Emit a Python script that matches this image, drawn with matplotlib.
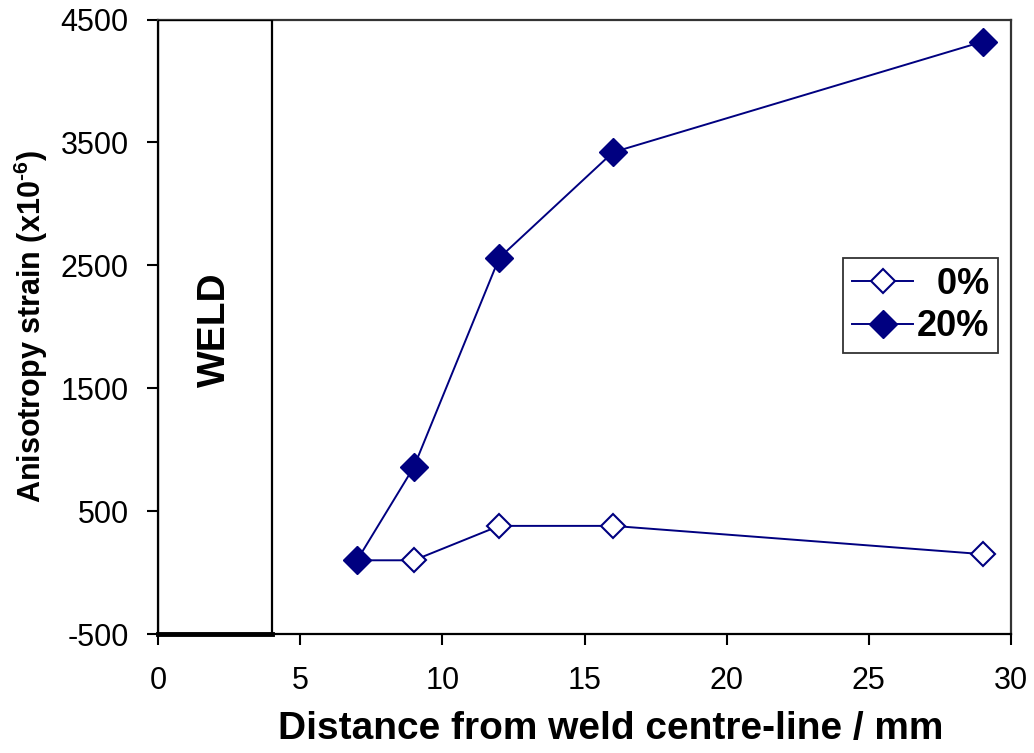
import matplotlib.pyplot as plt
from matplotlib.patches import Rectangle

plt.rcParams['font.family'] = ['Liberation Sans', 'DejaVu Sans']
plt.rcParams['axes.unicode_minus'] = False
plt.rcParams['mathtext.fontset'] = 'custom'
plt.rcParams['mathtext.rm'] = 'Liberation Sans:bold'
plt.rcParams['mathtext.bf'] = 'Liberation Sans:bold'

# distance from weld centre-line (mm) and anisotropy strain (x10^-6)
distance = [7, 9, 12, 16, 29]
strain_0 = [100, 100, 380, 380, 150]
strain_20 = [100, 860, 2560, 3420, 4320]

x_ticks = [0, 5, 10, 15, 20, 25, 30]
y_ticks = [-500, 500, 1500, 2500, 3500, 4500]
weld_edge = 4

navy = '#000080'

fig = plt.figure(figsize=(10.34, 7.53), dpi=100)
ax = fig.add_axes([0.1528, 0.158, 0.825, 0.816])

# leading spaces keep the legend labels right-aligned like the original
ax.plot(distance, strain_0, color=navy, lw=1.4, marker='D', ms=12.5,
        mfc='white', mec=navy, mew=1.5, label='  0%')
ax.plot(distance, strain_20, color=navy, lw=1.4, marker='D', ms=14,
        mfc=navy, mec=navy, label='20%')

# weld region box
ax.add_patch(Rectangle((0, y_ticks[0]), weld_edge, y_ticks[-1] - y_ticks[0],
                       fill=False, ec='black', lw=1.6, zorder=3))
ax.plot([0, weld_edge], [y_ticks[0], y_ticks[0]], color='black', lw=3.5,
        zorder=4, clip_on=False)
ax.text(weld_edge / 2, 1980, 'WELD', rotation=90, ha='center', va='center',
        fontsize=28, fontweight='bold')

ax.set_xlim(0, 30)
ax.set_ylim(-500, 4500)
ax.set_xticks(x_ticks)
ax.set_yticks(y_ticks)
ax.tick_params(direction='out', length=8, width=1.5, labelsize=22)
ax.tick_params(axis='x', pad=15)
ax.tick_params(axis='y', pad=13)
for s in ax.spines.values():
    s.set_linewidth(1.6)
ax.spines['top'].set_color('#333333')
ax.spines['right'].set_color('#333333')

ax.set_xlabel('Distance from weld centre-line / mm', fontsize=28,
              fontweight='bold', labelpad=11, x=0.531)
ax.set_ylabel(r'Anisotropy strain (x10$^{\text{-}6}$)', fontsize=22,
              fontweight='bold', labelpad=8)

leg = ax.legend(loc='upper left', bbox_to_anchor=(0.803, 0.612),
                borderaxespad=0, fancybox=False, frameon=True,
                prop={'size': 26, 'weight': 'bold'}, handlelength=1.7,
                handletextpad=0.1, borderpad=0.25, labelspacing=0.2)
leg.get_frame().set_edgecolor('black')
leg.get_frame().set_linewidth(1.3)

fig.savefig('out.png', dpi=100)
